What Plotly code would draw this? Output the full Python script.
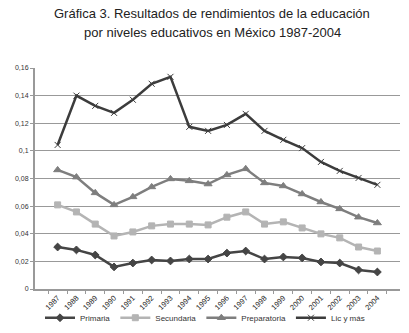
import plotly.graph_objects as go

years = [str(y) for y in range(1987, 2005)]
primaria = [0.0304, 0.0283, 0.0246, 0.0160, 0.0188, 0.0210, 0.0203, 0.0217, 0.0217, 0.0260,
            0.0275, 0.0217, 0.0232, 0.0225, 0.0196, 0.0188, 0.0138, 0.0123]
secundaria = [0.0609, 0.0558, 0.0470, 0.0384, 0.0413, 0.0457, 0.0470, 0.0470, 0.0464, 0.0520,
              0.0558, 0.0470, 0.0486, 0.0442, 0.0399, 0.0370, 0.0304, 0.0275]
preparatoria = [0.0862, 0.0810, 0.0696, 0.0609, 0.0667, 0.0739, 0.0797, 0.0783, 0.0760, 0.0826,
                0.0870, 0.0768, 0.0746, 0.0688, 0.0630, 0.0580, 0.0520, 0.0478]
licymas = [0.1043, 0.1400, 0.1326, 0.1275, 0.1370, 0.1486, 0.1536, 0.1174, 0.1145, 0.1188,
           0.1268, 0.1145, 0.1080, 0.1020, 0.0920, 0.0855, 0.0804, 0.0754]
title_lines = ["Gráfica 3. Resultados de rendimientos de la educación",
               "por niveles educativos en México 1987-2004"]

series = [
    ("Primaria", primaria, "#454545", "diamond", 6),
    ("Secundaria", secundaria, "#b4b4b4", "square", 6),
    ("Preparatoria", preparatoria, "#7e7e7e", "triangle-up", 7),
    ("Lic y más", licymas, "#3c3c3c", "x-thin", 6),
]

fig = go.Figure()
for name, vals, col, sym, sz in series:
    fig.add_trace(go.Scatter(
        x=years, y=vals, name=name, mode="lines+markers",
        line=dict(color=col, width=2.5),
        marker=dict(symbol=sym, size=sz, color=col, line=dict(color=col, width=1)),
    ))

for i, line in enumerate(title_lines):
    fig.add_annotation(
        text=line, xref="paper", yref="paper",
        x=(212 - 35) / 365, y=(289 - (14 + 19 * i)) / 221,
        xanchor="center", yanchor="middle", showarrow=False,
        font=dict(size=13, color="#222222"),
    )

fig.update_layout(
    width=409, height=333,
    paper_bgcolor="white", plot_bgcolor="white",
    margin=dict(l=35, r=9, t=68, b=44, autoexpand=False),
    separators=",.",
    font=dict(family="Liberation Sans, Arial, sans-serif", color="#333333"),
    showlegend=True,
    legend=dict(orientation="h", x=(40 - 35) / 365, xanchor="left", y=-0.13, yanchor="middle",
                font=dict(size=8, color="#333333"), tracegroupgap=0,
                bgcolor="rgba(0,0,0,0)", itemwidth=30),
    xaxis=dict(
        type="category", showgrid=False, showline=True, linecolor="#999999", linewidth=1.5,
        ticks="outside", ticklen=3, tickcolor="#999999", tickangle=-45,
        tickfont=dict(size=7.5, color="#222222"), tickson="boundaries",
    ),
    yaxis=dict(
        range=[0, 0.16], dtick=0.02, showgrid=True, gridcolor="#999999", gridwidth=1,
        showline=True, linecolor="#999999", linewidth=2, ticks="outside", ticklen=3,
        tickcolor="#999999", tickfont=dict(size=7, color="#333333"), zeroline=False,
    ),
)

fig.write_html("out.html", config={"displayModeBar": False},
               post_script="document.body.style.margin='0';")
